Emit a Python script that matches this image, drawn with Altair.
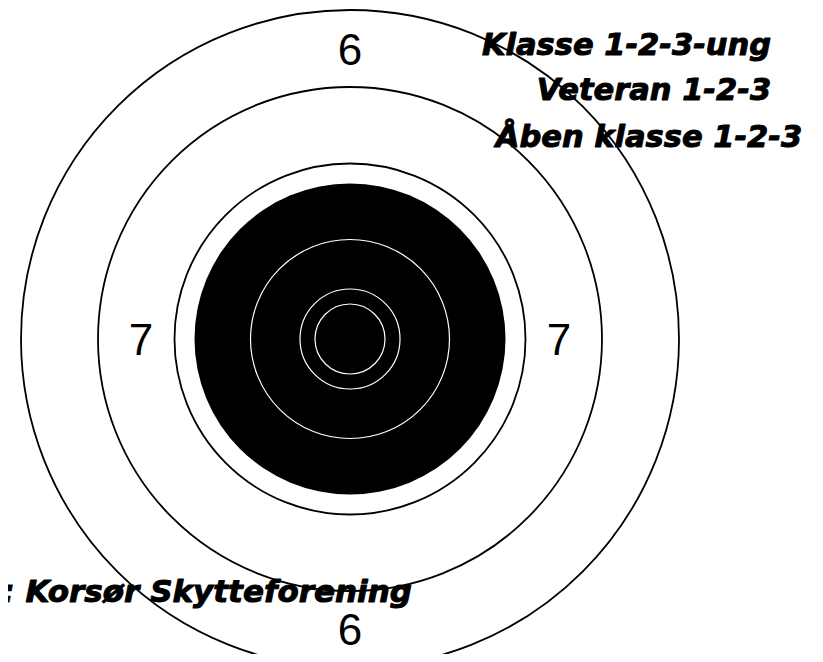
import math
import altair as alt
import pandas as pd

# ---- data (target units ~ reference pixels) ----
ring_radii = [329, 252, 175.5]          # black outline rings
black_radius = [155.5]                  # filled black aiming disk
white_radii = [99.5, 50, 35]            # white rings inside the black
score_text = ["6", "6", "7", "7"]
score_side = ["top", "bottom", "left", "right"]
class_lines = ["Klasse 1-2-3-ung", "Veteran 1-2-3", "Åben klasse 1-2-3"]
organizer = ["r: Korsør Skytteforening"]

# ---- layout (not data) ----
label_radius = {"6": 290, "7": 209}
side_vec = {"top": (0, 1), "bottom": (0, -1), "left": (-1, 0), "right": (1, 0)}
class_pos = [(276.5, 284), (304, 239), (299, 192)]
organizer_pos = [(62, -263)]

W, H = 807, 646
xs = alt.Scale(domain=[-342, 465], nice=False, zero=False)
ys = alt.Scale(domain=[-315, 331], nice=False, zero=False)
rs = alt.Scale(type="linear", domain=[0, 400], range=[0, 400], zero=True)
X = alt.X("x:Q", scale=xs, axis=None)
Y = alt.Y("y:Q", scale=ys, axis=None)
R = alt.Radius("r:Q", scale=rs, stack=False)
TAU = 2 * math.pi

rings_df = pd.DataFrame({"x": 0.0, "y": 0.0, "r": ring_radii})
black_df = pd.DataFrame({"x": 0.0, "y": 0.0, "r": black_radius})
white_df = pd.DataFrame({"x": 0.0, "y": 0.0, "r": white_radii})

scores_df = pd.DataFrame({
    "label": score_text,
    "x": [side_vec[s][0] * label_radius[t] for s, t in zip(score_side, score_text)],
    "y": [side_vec[s][1] * label_radius[t] for s, t in zip(score_side, score_text)],
})
class_df = pd.DataFrame({
    "label": class_lines,
    "x": [p[0] for p in class_pos],
    "y": [p[1] for p in class_pos],
})
org_df = pd.DataFrame({
    "label": organizer,
    "x": [p[0] for p in organizer_pos],
    "y": [p[1] for p in organizer_pos],
})

rings = alt.Chart(rings_df).mark_arc(
    theta=0, theta2=TAU, filled=False, stroke="black", strokeWidth=1.8
).encode(x=X, y=Y, radius=R)

black = alt.Chart(black_df).mark_arc(
    theta=0, theta2=TAU, fill="black", stroke="black", strokeWidth=0
).encode(x=X, y=Y, radius=R)

white = alt.Chart(white_df).mark_arc(
    theta=0, theta2=TAU, filled=False, stroke="white", strokeWidth=1.2
).encode(x=X, y=Y, radius=R)

scores = alt.Chart(scores_df).mark_text(
    font="Liberation Sans", fontSize=44, align="center", baseline="alphabetic",
    dy=16, color="black"
).encode(x=X, y=Y, text="label:N")

heavy = dict(font="DejaVu Sans", fontWeight="bold", fontStyle="italic",
             baseline="alphabetic", color="black", stroke="black",
             strokeWidth=1.0, strokeJoin="round")

classes = alt.Chart(class_df).mark_text(
    fontSize=30.5, align="center", **heavy
).encode(x=X, y=Y, text="label:N")

org = alt.Chart(org_df).mark_text(
    fontSize=31, align="right", **heavy
).encode(x=X, y=Y, text="label:N")

chart = alt.layer(rings, black, white, scores, classes, org).properties(
    width=W, height=H, autosize=alt.AutoSizeParams(type="none"), padding=0,
    background="white"
).configure_view(strokeWidth=0)

chart.save("out.html", embed_options={"renderer": "svg", "actions": False})
